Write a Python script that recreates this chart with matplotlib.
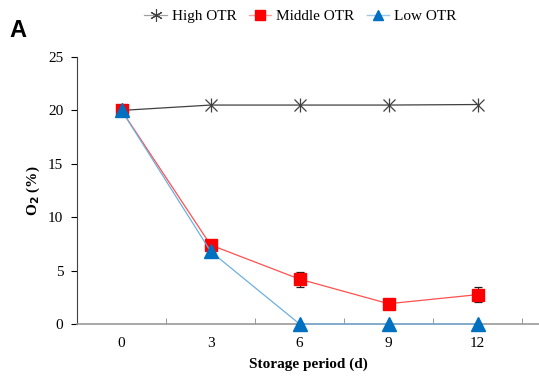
import numpy as np
import matplotlib
matplotlib.use("Agg")
import matplotlib.pyplot as plt
from matplotlib.lines import Line2D

plt.rcParams['font.family'] = ['Liberation Serif', 'DejaVu Serif']

days = ['0', '3', '6', '9', '12']
high_otr = [20.0, 20.5, 20.5, 20.5, 20.55]
middle_otr = [20.0, 7.4, 4.2, 1.9, 2.75]
middle_err = [0.0, 0.3, 0.7, 0.2, 0.72]
low_otr = [20.0, 6.8, 0.0, 0.0, 0.0]
low_err = [0.0, 0.55, 0.0, 0.0, 0.0]

fig = plt.figure(figsize=(5.39, 3.81), dpi=100)
ax = fig.add_axes([0.143, 0.1496, 0.857, 0.7008])
x = np.arange(len(days))

# high OTR: x marker plus a vertical bar gives the excel star
ax.plot(x, high_otr, color='#404040', lw=0.9, marker='x', ms=9, mew=0.9,
        mec='#404040', zorder=3)
ax.plot(x, high_otr, ls='none', marker='|', ms=10, mew=0.9, mec='#404040', zorder=3)

# error bars behind the markers, only the caps peek out
ax.errorbar(x, middle_otr, yerr=middle_err, ls='none', ecolor='#202020',
            elinewidth=0.8, capsize=3, capthick=0.9, zorder=2)
ax.errorbar(x, low_otr, yerr=low_err, ls='none', ecolor='#202020',
            elinewidth=0.8, capsize=3, capthick=0.9, zorder=2)
ax.plot(x, middle_otr, color='#FF5050', lw=0.9, marker='s', ms=9,
        mfc='#FF0000', mec='#FF0000', zorder=4, clip_on=False)
ax.plot(x, low_otr, color='#6CB0E0', lw=0.9, marker='^', ms=10,
        mfc='#0070C0', mec='#0070C0', zorder=5, clip_on=False)

ax.set_xlim(-0.5, 4.69)
ax.set_ylim(0, 25)
ax.set_yticks(range(0, 26, 5))
ax.set_xticks(x)
ax.set_xticklabels(days)
ax.set_xticks(np.arange(-0.5, 4.6, 1), minor=True)
ax.tick_params(axis='x', which='major', length=0, labelsize=11, pad=9)
ax.tick_params(axis='x', which='minor', length=4, direction='in', color='#888888')
ax.tick_params(axis='y', length=4, direction='out', labelsize=11, pad=6)
for s in ['top', 'right']:
    ax.spines[s].set_visible(False)
ax.spines['left'].set_color('#404040')
ax.spines['bottom'].set_color('#999999')
ax.spines['bottom'].set_linewidth(1.2)

ax.set_xlabel('Storage period (d)', fontsize=11, fontweight='bold', labelpad=6)
ax.set_ylabel('O$_\\mathbf{2}$ (%)', fontsize=11, fontweight='bold', labelpad=4)

handles = [
    Line2D([], [], color='#A0A0A0', lw=0.9, marker=(6, 2, 0), ms=9, mec='#404040', mew=0.8),
    Line2D([], [], color='#FFA0A0', lw=1, marker='s', ms=7, mfc='#FF0000', mec='#FF0000'),
    Line2D([], [], color='#9CC8EC', lw=1, marker='^', ms=7, mfc='#0070C0', mec='#0070C0'),
]
fig.legend(handles, ['High OTR', 'Middle OTR', 'Low OTR'], loc='center',
           bbox_to_anchor=(0.557, 0.958), ncol=3, frameon=False, fontsize=11,
           handlelength=1.5, handletextpad=0.3, columnspacing=0.8)

fig.text(0.018, 0.903, 'A', fontsize=17, fontweight='bold', family='Liberation Sans')

fig.savefig('out.png', dpi=100)
